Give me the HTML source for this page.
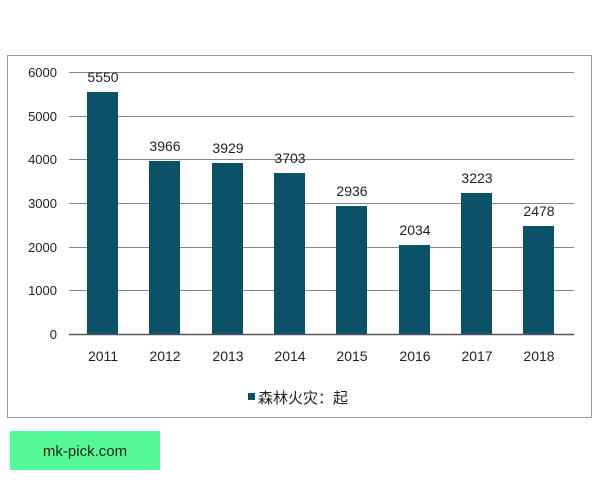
<!DOCTYPE html>
<html><head><meta charset="utf-8"><style>
body{margin:0;width:600px;height:480px;background:#fff;overflow:hidden}
svg{display:block}
text{font-family:"Liberation Sans","Noto Sans CJK SC",sans-serif;fill:#222}
</style></head><body>
<svg width="600" height="480" viewBox="0 0 600 480">
<rect x="7.5" y="55.5" width="584" height="362" fill="#fff" stroke="#999" stroke-width="1"/>
<g stroke="#888" stroke-width="1">
<line x1="69" y1="72.5" x2="574" y2="72.5"/>
<line x1="69" y1="116.5" x2="574" y2="116.5"/>
<line x1="69" y1="159.5" x2="574" y2="159.5"/>
<line x1="69" y1="203.5" x2="574" y2="203.5"/>
<line x1="69" y1="247.5" x2="574" y2="247.5"/>
<line x1="69" y1="290.5" x2="574" y2="290.5"/>
</g>
<g font-size="13" text-anchor="end">
<text x="57" y="77">6000</text><text x="57" y="121">5000</text><text x="57" y="164">4000</text>
<text x="57" y="208">3000</text><text x="57" y="252">2000</text><text x="57" y="295">1000</text><text x="57" y="339">0</text>
</g>
<g fill="#0b5268">
<rect x="87" y="92" width="31" height="242"/>
<rect x="149" y="161" width="31" height="173"/>
<rect x="212" y="163" width="31" height="171"/>
<rect x="274" y="173" width="31" height="161"/>
<rect x="336" y="206" width="31" height="128"/>
<rect x="399" y="245" width="31" height="89"/>
<rect x="461" y="193" width="31" height="141"/>
<rect x="523" y="226" width="31" height="108"/>
</g>
<line x1="69" y1="334.5" x2="574" y2="334.5" stroke="#555" stroke-width="1.5"/>
<g font-size="14" text-anchor="middle">
<text x="103" y="82">5550</text><text x="165" y="151">3966</text><text x="228" y="153">3929</text>
<text x="290" y="163">3703</text><text x="352" y="196">2936</text><text x="415" y="235">2034</text>
<text x="477" y="183">3223</text><text x="539" y="216">2478</text>
</g>
<g font-size="14" text-anchor="middle">
<text x="103" y="361">2011</text><text x="165" y="361">2012</text><text x="228" y="361">2013</text>
<text x="290" y="361">2014</text><text x="352" y="361">2015</text><text x="415" y="361">2016</text>
<text x="477" y="361">2017</text><text x="539" y="361">2018</text>
</g>
<rect x="248" y="393" width="7" height="7" fill="#0b5268"/>
<text x="258" y="403" font-size="15">森林火灾：起</text>
<rect x="10" y="431" width="150" height="39" fill="#55fa96"/>
<text x="85" y="456" font-size="15" text-anchor="middle" fill="#333">mk-pick.com</text>
</svg>
</body></html>
